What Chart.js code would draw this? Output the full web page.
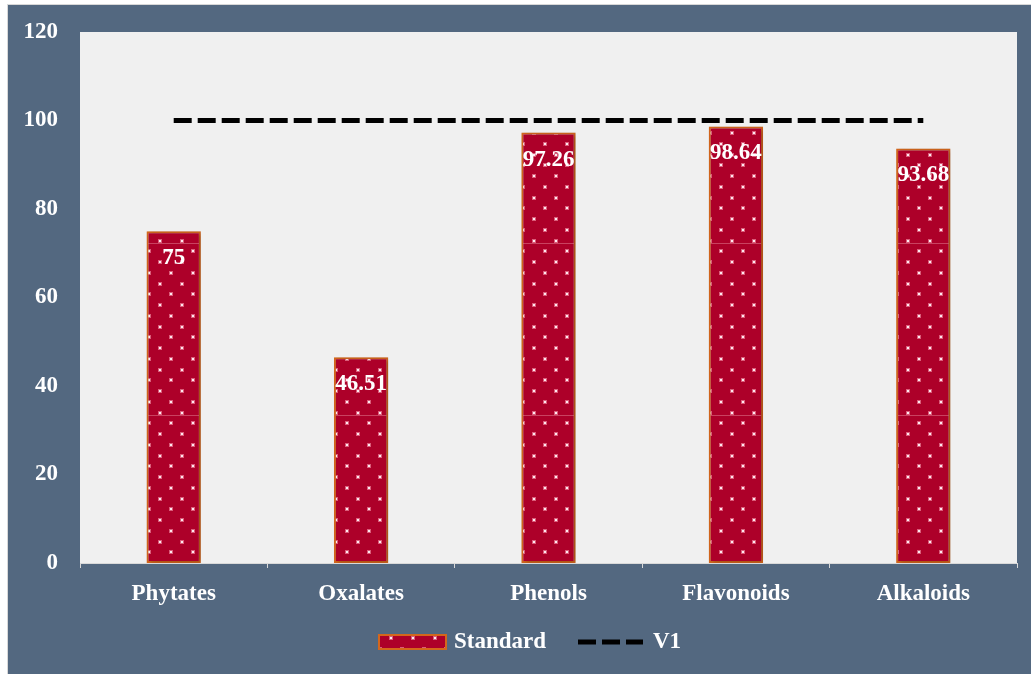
<!DOCTYPE html>
<html>
<head>
<meta charset="utf-8">
<script src="https://cdn.jsdelivr.net/npm/chart.js@4/dist/chart.umd.min.js"></script>
<style>
  html, body { margin: 0; padding: 0; background: #ffffff; }
  #wrap { width: 1031px; height: 674px; position: relative; }
</style>
</head>
<body>
<div id="wrap"><canvas id="chart" width="1031" height="674"></canvas></div>
<script>
// Chart data
const categories = ['Phytates', 'Oxalates', 'Phenols', 'Flavonoids', 'Alkaloids'];
const standardValues = [75, 46.51, 97.26, 98.64, 93.68];
const v1Values = [100, 100, 100, 100, 100];
const seriesNames = ['Standard', 'V1'];
const yMin = 0, yMax = 120, yStep = 20;

const FONT = '"Liberation Serif", "Times New Roman", serif';
const FONT_SIZE = 23;
const SLATE = '#536880';
const CRIMSON = '#ad0029';
const EDGE = '#d4661c';

// Dotted crimson fill, anchored to the canvas origin
function makeDotPattern(ctx) {
  const tile = document.createElement('canvas');
  tile.width = 22; tile.height = 172;
  const t = tile.getContext('2d');
  t.fillStyle = CRIMSON;
  t.fillRect(0, 0, 22, 172);
  // faint seam line
  t.fillStyle = 'rgba(255,190,200,0.35)';
  t.fillRect(0, 71, 22, 1);
  for (let k = 0; k < 16; k++) {
    const y = Math.round((68.7 + k * 10.75) % 172);
    const x = Math.round((k % 2 === 0) ? 5.5 : 17);
    t.fillStyle = 'rgba(255,170,190,0.55)';
    t.fillRect(x - 2, y - 2, 4, 4);
    t.fillStyle = 'rgba(255,240,245,0.95)';
    t.fillRect(x - 1, y - 1, 2, 2);
  }
  return ctx.createPattern(tile, 'repeat');
}

const canvas = document.getElementById('chart');
const ctx = canvas.getContext('2d');
const dotPattern = makeDotPattern(ctx);

// Frame and plot-area background
const backgroundPlugin = {
  id: 'frameBackground',
  beforeDraw(chart) {
    const c = chart.ctx, a = chart.chartArea;
    c.save();
    c.fillStyle = '#ffffff';
    c.fillRect(0, 0, chart.width, chart.height);
    c.fillStyle = SLATE;
    c.fillRect(7, 4, chart.width - 7, chart.height - 4);
    c.strokeStyle = '#d8d8d8';
    c.lineWidth = 1;
    c.strokeRect(7.5, 4.5, chart.width - 7, chart.height - 4);
    c.fillStyle = '#f0f0f0';
    c.fillRect(a.left, a.top, a.right - a.left, a.bottom - a.top);
    c.restore();
  }
};

// Soft shadow to the right of the bars
const barShadowPlugin = {
  id: 'barShadow',
  beforeDatasetDraw(chart, args) {
    if (args.index !== 0) return;
    const c = chart.ctx;
    c.save();
    c.shadowColor = 'rgba(0,0,0,0.28)';
    c.shadowBlur = 4;
    c.shadowOffsetX = 2;
    c.shadowOffsetY = 1;
  },
  afterDatasetDraw(chart, args) {
    if (args.index !== 0) return;
    chart.ctx.restore();
  }
};

// Value labels inside the top of each bar
const valueLabelPlugin = {
  id: 'valueLabels',
  afterDatasetsDraw(chart) {
    const meta = chart.getDatasetMeta(0);
    const c = chart.ctx;
    c.save();
    c.font = 'bold ' + FONT_SIZE + 'px ' + FONT;
    c.fillStyle = '#ffffff';
    c.textAlign = 'center';
    c.textBaseline = 'middle';
    meta.data.forEach((bar, i) => {
      c.fillText(String(standardValues[i]), bar.x, bar.y + 27);
    });
    c.restore();
  }
};

// Legend below the axis
const legendPlugin = {
  id: 'customLegend',
  afterDraw(chart) {
    const c = chart.ctx;
    const y = 642;
    c.save();
    // Standard swatch
    c.fillStyle = dotPattern;
    c.fillRect(378, 635, 68, 14);
    c.strokeStyle = EDGE;
    c.lineWidth = 2;
    c.strokeRect(379, 635, 67, 14);
    c.font = 'bold ' + FONT_SIZE + 'px ' + FONT;
    c.fillStyle = '#ffffff';
    c.textAlign = 'left';
    c.textBaseline = 'middle';
    c.fillText(seriesNames[0], 454, y);
    // V1 swatch
    c.strokeStyle = '#000000';
    c.lineWidth = 5;
    c.setLineDash([18, 6]);
    c.beginPath();
    c.moveTo(578, y);
    c.lineTo(643, y);
    c.stroke();
    c.setLineDash([]);
    c.fillText(seriesNames[1], 653, y);
    c.restore();
  }
};

new Chart(ctx, {
  type: 'bar',
  data: {
    labels: categories,
    datasets: [
      {
        type: 'bar',
        label: seriesNames[0],
        data: standardValues,
        backgroundColor: dotPattern,
        borderColor: EDGE,
        borderWidth: 2,
        borderSkipped: false,
        barPercentage: 0.29,
        categoryPercentage: 1.0,
        order: 2
      },
      {
        type: 'line',
        label: seriesNames[1],
        data: v1Values,
        borderColor: '#000000',
        borderWidth: 5,
        borderDash: [18, 6],
        borderCapStyle: 'butt',
        pointRadius: 0,
        fill: false,
        order: 1
      }
    ]
  },
  options: {
    responsive: false,
    animation: false,
    devicePixelRatio: 1,
    layout: { padding: { left: 7, top: 32, right: 14, bottom: 0 } },
    plugins: {
      legend: { display: false },
      tooltip: { enabled: false }
    },
    scales: {
      x: {
        offset: true,
        grid: {
          display: true,
          drawOnChartArea: false,
          drawTicks: true,
          tickLength: 5,
          color: '#d9d9d9',
          offset: true
        },
        border: { display: true, color: '#d9d9d9', width: 1 },
        ticks: {
          color: '#ffffff',
          font: { family: FONT, size: FONT_SIZE, weight: 'bold' },
          padding: 12,
          maxRotation: 0
        },
        afterFit(scale) { scale.height = 111; }
      },
      y: {
        min: yMin,
        max: yMax,
        grid: { display: false, drawTicks: false },
        border: { display: false },
        ticks: {
          stepSize: yStep,
          color: '#ffffff',
          font: { family: FONT, size: FONT_SIZE, weight: 'bold' },
          padding: 22
        },
        afterFit(scale) {
          scale.width = 73;
          scale.paddingTop = 0;
          scale.paddingBottom = 0;
        }
      }
    }
  },
  plugins: [backgroundPlugin, barShadowPlugin, valueLabelPlugin, legendPlugin]
});
</script>
</body>
</html>
